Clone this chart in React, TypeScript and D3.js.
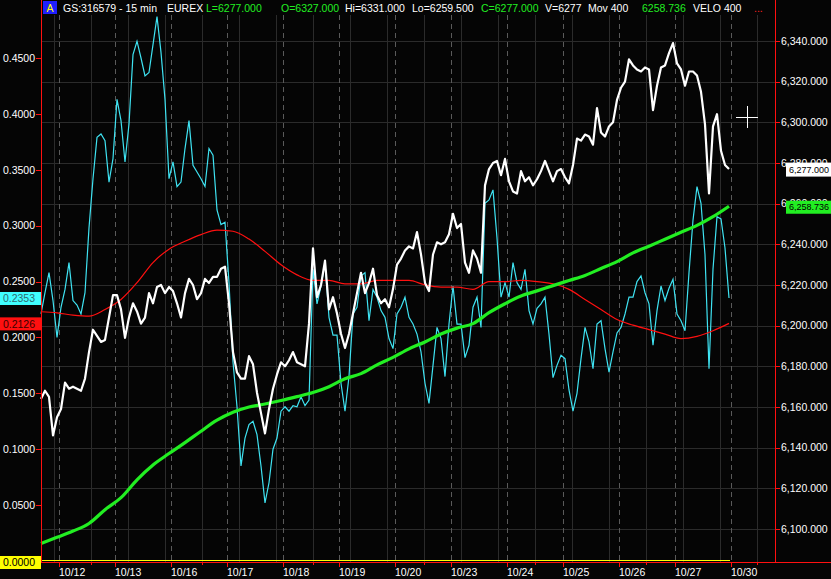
import React from "react";
import * as d3 from "d3";

// 15 min EUREX chart, one value every 4 px (~1/14 of a trading day)
const dayLabels = ["10/12", "10/13", "10/16", "10/17", "10/18", "10/19", "10/20", "10/23", "10/24", "10/25", "10/26", "10/27", "10/30"];

const price = [
  6164, 6168, 6165, 6146, 6155, 6159, 6172, 6169, 6170, 6169, 6168, 6174, 6187, 6198, 6195, 6192,
  6193, 6204, 6215, 6215, 6208, 6194, 6204, 6211, 6207, 6201, 6204, 6216, 6211, 6219, 6220, 6216,
  6219, 6217, 6211, 6204, 6216, 6223, 6220, 6213, 6216, 6223, 6221, 6224, 6224, 6228, 6229, 6211,
  6187, 6177, 6174, 6174, 6185, 6181, 6167, 6157, 6147, 6159, 6169, 6176, 6182, 6180, 6183, 6187,
  6182, 6181, 6180, 6201, 6238, 6214, 6220, 6232, 6208, 6214, 6206, 6196, 6189, 6196, 6206, 6216,
  6226, 6216, 6221, 6228, 6215, 6211, 6213, 6209, 6218, 6230, 6233, 6237, 6239, 6238, 6246, 6235,
  6221, 6217, 6235, 6241, 6240, 6241, 6245, 6255, 6248, 6250, 6231, 6226, 6237, 6233, 6226, 6269,
  6277, 6280, 6281, 6274, 6282, 6271, 6266, 6265, 6276, 6271, 6273, 6269, 6272, 6276, 6281, 6276,
  6271, 6276, 6277, 6273, 6270, 6279, 6292, 6291, 6294, 6293, 6289, 6307, 6295, 6293, 6298, 6300,
  6311, 6317, 6320, 6331, 6328, 6326, 6325, 6327, 6326, 6306, 6318, 6327, 6328, 6334, 6339, 6329,
  6326, 6318, 6325, 6325, 6323, 6315, 6299, 6265, 6298, 6304, 6286, 6279, 6277,
];

const velo = [
  0.221, 0.240, 0.258, 0.233, 0.200, 0.227, 0.243, 0.267, 0.233, 0.229, 0.221, 0.240, 0.298, 0.342, 0.379, 0.382,
  0.376, 0.339, 0.360, 0.413, 0.394, 0.357, 0.391, 0.453, 0.465, 0.450, 0.434, 0.437, 0.462, 0.487, 0.455, 0.413,
  0.342, 0.357, 0.335, 0.339, 0.369, 0.394, 0.354, 0.348, 0.342, 0.335, 0.369, 0.363, 0.314, 0.301, 0.303, 0.249,
  0.178, 0.138, 0.085, 0.110, 0.122, 0.125, 0.113, 0.085, 0.052, 0.070, 0.100, 0.110, 0.134, 0.138, 0.134, 0.139,
  0.138, 0.147, 0.139, 0.144, 0.261, 0.230, 0.246, 0.267, 0.218, 0.202, 0.202, 0.159, 0.134, 0.165, 0.221, 0.227,
  0.255, 0.258, 0.215, 0.243, 0.236, 0.224, 0.218, 0.199, 0.190, 0.221, 0.227, 0.236, 0.218, 0.212, 0.203, 0.187,
  0.159, 0.141, 0.175, 0.209, 0.199, 0.165, 0.212, 0.246, 0.212, 0.212, 0.182, 0.193, 0.227, 0.236, 0.209, 0.320,
  0.323, 0.332, 0.289, 0.236, 0.249, 0.236, 0.267, 0.249, 0.243, 0.261, 0.224, 0.212, 0.226, 0.230, 0.236, 0.203,
  0.164, 0.175, 0.184, 0.181, 0.153, 0.134, 0.150, 0.181, 0.209, 0.196, 0.172, 0.212, 0.215, 0.190, 0.169, 0.187,
  0.204, 0.209, 0.221, 0.236, 0.236, 0.250, 0.255, 0.240, 0.230, 0.193, 0.224, 0.246, 0.233, 0.244, 0.252, 0.221,
  0.215, 0.206, 0.258, 0.305, 0.335, 0.320, 0.274, 0.172, 0.261, 0.308, 0.306, 0.280, 0.2353,
];

// the two averages, one value every 4 bars
const MA_STEP = 4;
const veloAvg = [
  0.223, 0.222, 0.220, 0.219, 0.225, 0.234, 0.249, 0.267, 0.279, 0.286, 0.292, 0.296,
  0.295, 0.288, 0.277, 0.265, 0.256, 0.251, 0.251, 0.248, 0.248, 0.251, 0.251, 0.251,
  0.247, 0.245, 0.245, 0.243, 0.250, 0.250, 0.251, 0.250, 0.248, 0.243, 0.234,
  0.225, 0.216, 0.211, 0.207, 0.203, 0.199, 0.201, 0.206, 0.2126,
];
const mov400 = [
  6092.9, 6095.9, 6099.0, 6102.7, 6109.5, 6115.4, 6124.2, 6131.5, 6137.1, 6142.5, 6148.1, 6153.5,
  6157.4, 6160.0, 6161.5, 6163.2, 6165.1, 6167.1, 6170.0, 6173.9, 6176.4, 6180.7, 6184.4, 6188.6,
  6192.0, 6195.9, 6198.8, 6201.0, 6206.4, 6210.8, 6214.6, 6217.1, 6219.7, 6222.2, 6224.7,
  6228.1, 6231.5, 6235.8, 6239.1, 6242.5, 6245.9, 6249.3, 6253.6, 6258.736,
];

const priceTicks = [6100, 6120, 6140, 6160, 6180, 6200, 6220, 6240, 6260, 6280, 6300, 6320, 6340];
const veloTicks = [0.05, 0.1, 0.15, 0.2, 0.25, 0.3, 0.35, 0.4, 0.45];

const header = [
  "GS:316579 - 15 min", "EUREX", "L=6277.000", "O=6327.000", "Hi=6331.000", "Lo=6259.500",
  "C=6277.000", "V=6277", "Mov 400", "6258.736", "VELO 400", "...",
];

const FONT = "'Liberation Sans', Arial, sans-serif";

export default function App() {
  const BARS_PER_DAY = 14;
  const DAY_START = 4.5;
  const x = d3.scaleLinear().domain([0, price.length - 1]).range([41, 729]);
  const yP = d3.scaleLinear().domain([6100, 6340]).range([529, 41]);
  const yV = d3.scaleLinear().domain([0, 0.45]).range([561, 58]);

  const priceLine = d3.line<number>().x((d, i) => x(i)).y((d) => yP(d));
  const veloLine = d3.line<number>().x((d, i) => x(i)).y((d) => yV(d));
  const avgLine = d3.line<number>().x((d, i) => x(i * MA_STEP)).y((d) => yV(d)).curve(d3.curveMonotoneX);
  const movLine = d3.line<number>().x((d, i) => x(i * MA_STEP)).y((d) => yP(d)).curve(d3.curveMonotoneX);

  const dayIdx = dayLabels.map((d, k) => DAY_START + k * BARS_PER_DAY);
  const minorIdx = d3.range(3.25, 180, 9.25);

  const fmtP = d3.format(",.3f");
  const fmtV = d3.format(".4f");

  const headerX = [63, 167, 206, 281, 345, 412, 481, 545, 588, 642, 693, 754];
  const headerFill = ["#fff", "#fff", "#22ee22", "#22ee22", "#fff", "#fff", "#22ee22", "#fff", "#fff", "#22ee22", "#fff", "#ff2020"];

  const lastV = velo[velo.length - 1];
  const lastA = veloAvg[veloAvg.length - 1];
  const lastP = price[price.length - 1];
  const lastM = mov400[mov400.length - 1];

  return (
    <svg width={831} height={579} style={{ position: "absolute", left: 0, top: 0, background: "#050505" }} fontFamily={FONT}>
      <rect width={831} height={579} fill="#050505" />

      {/* grid */}
      {priceTicks.map((t) => (
        <line key={"hg" + t} x1={41} x2={775} y1={Math.round(yP(t)) + 0.5} y2={Math.round(yP(t)) + 0.5} stroke="#2b2b2b" />
      ))}
      {minorIdx.map((m) => (
        <line key={"vg" + m} x1={Math.round(x(m)) + 0.5} x2={Math.round(x(m)) + 0.5} y1={15} y2={562} stroke="#2b2b2b" />
      ))}
      {dayIdx.map((m) => (
        <line key={"dg" + m} x1={Math.round(x(m)) + 0.5} x2={Math.round(x(m)) + 0.5} y1={15} y2={562} stroke="#5a5a5a" strokeDasharray="5,4" />
      ))}

      {/* zero line */}
      <line x1={41} x2={x(price.length - 1) + 1} y1={yV(0) - 0.5} y2={yV(0) - 0.5} stroke="#ffff00" />

      {/* series */}
      <path d={veloLine(velo) || ""} fill="none" stroke="#3fe3f2" strokeWidth={1.2} />
      <path d={avgLine(veloAvg) || ""} fill="none" stroke="#ff1010" strokeWidth={1.2} />
      <path d={movLine(mov400) || ""} fill="none" stroke="#22ee22" strokeWidth={3.2} />
      <path d={priceLine(price) || ""} fill="none" stroke="#ffffff" strokeWidth={2.2} strokeLinejoin="round" />

      {/* frame */}
      <line x1={41.5} x2={41.5} y1={0} y2={562} stroke="#ff1010" />
      <line x1={775.5} x2={775.5} y1={0} y2={562} stroke="#ff1010" />
      <line x1={41} x2={831} y1={562.5} y2={562.5} stroke="#ff1010" />

      {/* left axis */}
      {veloTicks.map((t) => (
        <g key={"lv" + t}>
          <line x1={36} x2={41} y1={Math.round(yV(t)) + 0.5} y2={Math.round(yV(t)) + 0.5} stroke="#ff1010" />
          <text x={35} y={yV(t)} dy="0.36em" textAnchor="end" fontSize={10.5} fill="#fff">{fmtV(t)}</text>
        </g>
      ))}
      <rect x={0} y={yV(lastV) - 6} width={41} height={13} fill="#40ffff" />
      <text x={35} y={yV(lastV) + 0.5} dy="0.36em" textAnchor="end" fontSize={10.5} fill="#2f6a70">{fmtV(lastV)}</text>
      <rect x={0} y={yV(lastA) - 6} width={41} height={13} fill="#ff1010" />
      <text x={35} y={yV(lastA) + 0.5} dy="0.36em" textAnchor="end" fontSize={10.5} fill="#3a0000">{fmtV(lastA)}</text>
      <rect x={0} y={yV(0) - 5} width={41} height={13} fill="#ffff00" />
      <text x={35} y={yV(0) + 1.5} dy="0.36em" textAnchor="end" fontSize={10.5} fill="#000">{fmtV(0)}</text>

      {/* right axis */}
      {priceTicks.map((t) => (
        <g key={"rp" + t}>
          <line x1={775} x2={780} y1={Math.round(yP(t)) + 0.5} y2={Math.round(yP(t)) + 0.5} stroke="#ff1010" />
          <text x={781} y={yP(t)} dy="0.36em" fontSize={10.5} fill="#fff">{fmtP(t)}</text>
        </g>
      ))}
      <rect x={786} y={yP(lastP) - 6.5} width={45} height={14} fill="#ffffff" />
      <text x={789} y={yP(lastP) + 0.5} dy="0.36em" fontSize={9} fill="#000">{fmtP(lastP)}</text>
      <rect x={786} y={yP(lastM) - 5.5} width={45} height={13} fill="#22ee22" />
      <text x={789} y={yP(lastM) + 1} dy="0.36em" fontSize={9} fill="#000">{fmtP(lastM)}</text>

      {/* bottom axis */}
      {dayIdx.map((m, k) => (
        <g key={"bx" + k}>
          <line x1={Math.round(x(m)) + 0.5} x2={Math.round(x(m)) + 0.5} y1={562} y2={567} stroke="#ff1010" />
          <text x={Math.round(x(m))} y={576} fontSize={10.5} fill="#fff">{dayLabels[k]}</text>
        </g>
      ))}
      {minorIdx.filter((m, k) => k % 3 === 1).map((m) => (
        <line key={"bm" + m} x1={Math.round(x(m)) + 0.5} x2={Math.round(x(m)) + 0.5} y1={562} y2={565} stroke="#ff1010" />
      ))}

      {/* header */}
      <rect x={0} y={0} width={41} height={15} fill="#050505" />
      <rect x={43} y={1} width={14} height={13} fill="#1f1fff" />
      <text x={50} y={12} textAnchor="middle" fontSize={10.5} fill="#ffff00">A</text>
      {header.map((h, k) => (
        <text key={"h" + k} x={headerX[k]} y={12} fontSize={10.5} fill={headerFill[k]}>{h}</text>
      ))}

      {/* cursor */}
      <line x1={736} x2={758} y1={117.5} y2={117.5} stroke="#fff" />
      <line x1={747.5} x2={747.5} y1={106} y2={128} stroke="#fff" />
    </svg>
  );
}
